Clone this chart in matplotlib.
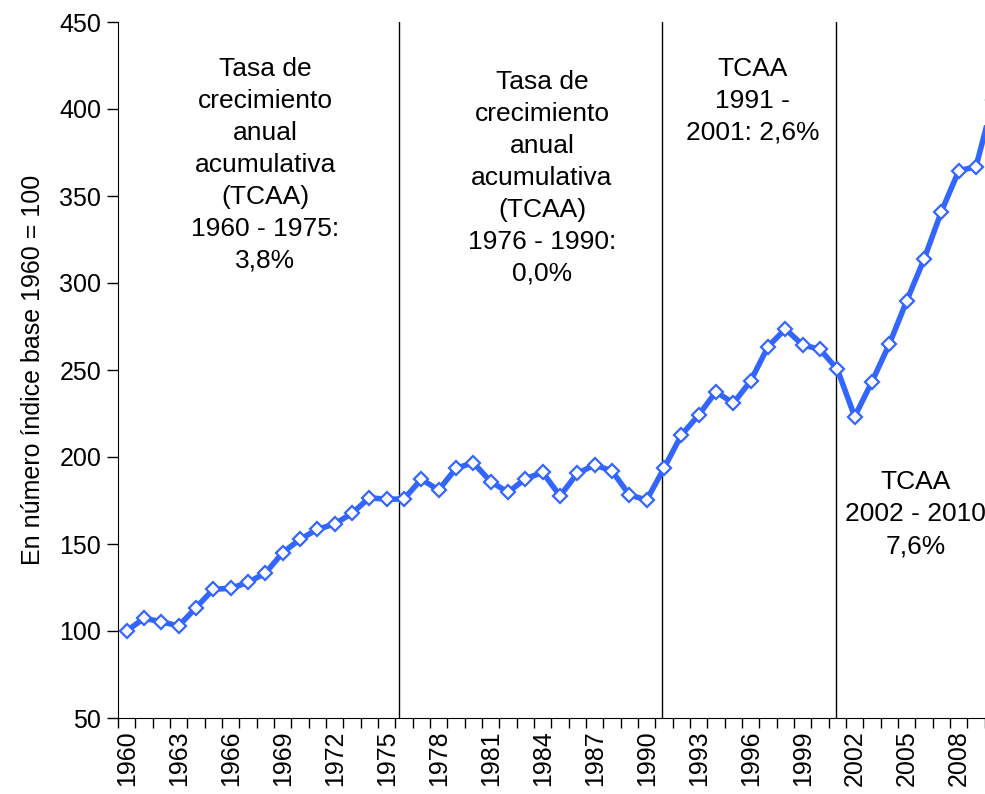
import matplotlib
matplotlib.use("Agg")
import matplotlib.pyplot as plt
import numpy as np

plt.rcParams['font.family'] = ['Liberation Sans', 'DejaVu Sans']

years = list(range(1960, 2011))
index = [100, 107.3, 105.3, 102.9, 113.4, 124.0, 124.5, 128.0, 133.2, 145.0,
         152.7, 158.4, 161.5, 167.6, 176.6, 175.7, 175.9, 187.2, 181.0, 193.5,
         196.7, 185.9, 179.7, 187.4, 191.2, 177.6, 190.6, 195.4, 192.0, 178.2,
         175.3, 193.5, 212.6, 224.1, 237.5, 230.9, 243.7, 263.4, 273.6, 264.4,
         261.9, 250.4, 223.2, 243.3, 264.9, 289.7, 313.6, 341.0, 364.4, 366.9,
         405.0]

# period separators (in year units)
separators = [1975.7, 1990.9, 2000.9]

notes = [
    (1968.0, 430, "Tasa de\ncrecimiento\nanual\nacumulativa\n(TCAA)\n1960 - 1975:\n3,8%"),
    (1983.96, 422.5, "Tasa de\ncrecimiento\nanual\nacumulativa\n(TCAA)\n1976 - 1990:\n0,0%"),
    (1996.1, 430, "TCAA\n1991 -\n2001: 2,6%"),
    (2005.5, 192.5, "TCAA\n2002 - 2010\n7,6%"),
]

fig = plt.figure(figsize=(9.85, 7.94), dpi=100)
ax = fig.add_axes([118 / 985, 76 / 794, 884 / 985, 696 / 794])

ax.plot(years, index, color='#3366FF', lw=4, marker='D', ms=7.5,
        mfc='white', mec='#3366FF', mew=1.6, zorder=3)

for s in separators:
    ax.axvline(s, color='black', lw=1.0, zorder=2)

for x, y, t in notes:
    ax.text(x, y, t, ha='center', va='top', fontsize=19, linespacing=1.42)

ax.set_xlim(1959.5, 2010.5)
ax.set_ylim(50, 450)
ax.set_yticks(np.arange(50, 451, 50))

ax.set_xticks(np.arange(1959.5, 2011, 1))
ax.set_xticklabels([])
ax.tick_params(axis='x', which='major', direction='out', length=7, width=1)
ax.set_xticks(years[::3], minor=True)
ax.set_xticklabels([str(y) for y in years[::3]], minor=True, rotation=90, fontsize=18)
ax.tick_params(axis='x', which='minor', length=0, pad=9)
ax.tick_params(axis='y', direction='out', length=8, width=1, labelsize=18, pad=4)

ax.set_ylabel("En número índice base 1960 = 100", fontsize=18, labelpad=10)
for sp in ['top', 'right']:
    ax.spines[sp].set_visible(False)

fig.savefig("out.png", dpi=100)
